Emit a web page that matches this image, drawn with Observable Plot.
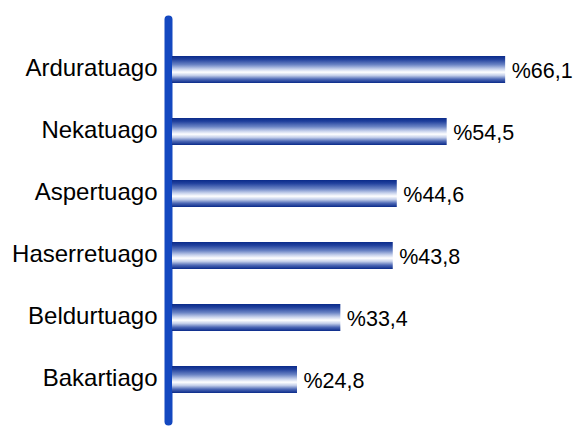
<!DOCTYPE html>
<html>
<head>
<meta charset="utf-8">
<script src="https://cdn.jsdelivr.net/npm/d3@7"></script>
<script src="https://cdn.jsdelivr.net/npm/@observablehq/plot@0.6"></script>
<style>
  html, body { margin: 0; padding: 0; background: #fff; }
  #chart { width: 575px; height: 428px; }
</style>
</head>
<body>
<div id="chart"></div>
<script>
const categories = ["Arduratuago", "Nekatuago", "Aspertuago", "Haserretuago", "Beldurtuago", "Bakartiago"];
const values = [66.1, 54.5, 44.6, 43.8, 33.4, 24.8];
const valueLabels = ["%66,1", "%54,5", "%44,6", "%43,8", "%33,4", "%24,8"];

const data = categories.map((c, i) => ({category: c, value: values[i], label: valueLabels[i]}));

const plot = Plot.plot({
  width: 575,
  height: 428,
  marginLeft: 172,
  marginRight: 48,
  marginTop: 19,
  marginBottom: 7,
  style: {fontFamily: "'Liberation Sans', Arial, sans-serif", background: "#fff"},
  x: {domain: [0, 80], range: [172, 172 + 80 * 5.04], axis: null},
  y: {domain: categories, paddingInner: 0.571, paddingOuter: 0.476, align: 0.567, label: null},
  marks: [
    Plot.frame({anchor: "left", stroke: "#1448c0", strokeWidth: 8, strokeLinecap: "round", dx: -4}),
    Plot.barX(data, {x: "value", y: "category", fill: "url(#barGrad)"}),
    Plot.axisY({tickSize: 0, tickPadding: 15, fontSize: 24, dy: -2, fill: "#000", label: null}),
    Plot.text(data, {x: "value", y: "category", text: "label", textAnchor: "start", dx: 6, dy: 1, fontSize: 21.5, fill: "#000"})
  ]
});

const svg = d3.select(plot);
const defs = svg.insert("defs", ":first-child");
const grad = defs.append("linearGradient")
  .attr("id", "barGrad").attr("x1", 0).attr("y1", 0).attr("x2", 0).attr("y2", 1);
[
  [0, "#0a2a8a"],
  [0.12, "#1f3f9c"],
  [0.32, "#6a83c4"],
  [0.48, "#c6d1ec"],
  [0.6, "#ffffff"],
  [0.72, "#c4cfea"],
  [0.86, "#4d68b5"],
  [1, "#0a2a8a"]
].forEach(([o, c]) => grad.append("stop").attr("offset", o).attr("stop-color", c));

document.getElementById("chart").appendChild(plot);
</script>
</body>
</html>
